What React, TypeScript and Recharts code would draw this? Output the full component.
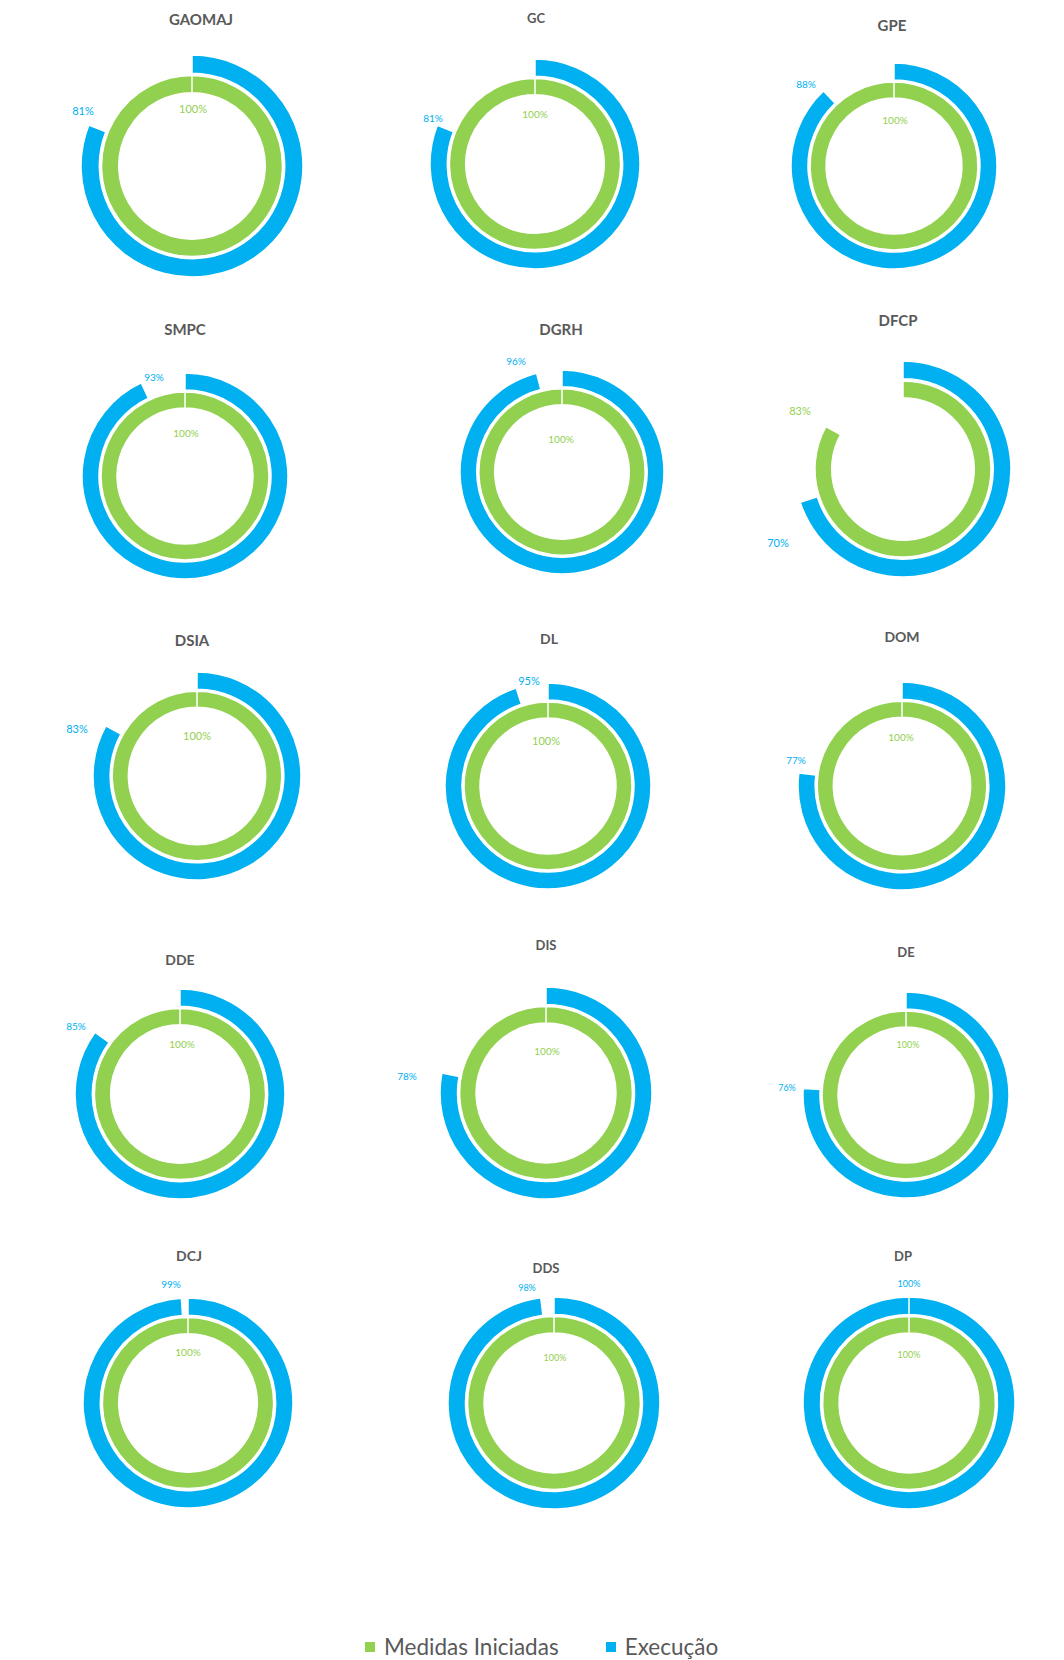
import React from 'react';
import {PieChart, Pie, Cell} from 'recharts';

const units = ['GAOMAJ', 'GC', 'GPE', 'SMPC', 'DGRH', 'DFCP', 'DSIA', 'DL', 'DOM', 'DDE', 'DIS', 'DE', 'DCJ', 'DDS', 'DP'];
const medidasIniciadas = [100, 100, 100, 100, 100, 83, 100, 100, 100, 100, 100, 100, 100, 100, 100];
const execucao = [81, 81, 88, 93, 96, 70, 83, 95, 77, 85, 78, 76, 99, 98, 100];

const GREEN = '#92D050';
const BLUE = '#00B0F0';
const GREY = '#595959';

// where each little chart sits on the page (collage of screenshots, so nothing lines up exactly)
// cx, cy, r, title x/y, blue label x/y, green label x/y, title size, label size
const layout = [
    {cx: 192, cy: 166, r: 111, tx: 201, ty: 19, bx: 83, by: 110, gx: 193, gy: 108, ts: 15, ls: 11},
    {cx: 535, cy: 164, r: 105, tx: 536, ty: 18, bx: 433, by: 118, gx: 535, gy: 114, ts: 13, ls: 10},
    {cx: 894, cy: 166, r: 103, tx: 892, ty: 25, bx: 806, by: 84, gx: 895, gy: 120, ts: 15, ls: 10},
    {cx: 185, cy: 476, r: 103, tx: 185, ty: 329, bx: 154, by: 377, gx: 186, gy: 433, ts: 15, ls: 10},
    {cx: 562, cy: 472, r: 102, tx: 561, ty: 329, bx: 516, by: 361, gx: 561, gy: 439, ts: 15, ls: 10},
    {cx: 903, cy: 469, r: 108, tx: 898, ty: 320, bx: 778, by: 542, gx: 800, gy: 410, ts: 15, ls: 11},
    {cx: 197, cy: 776, r: 104, tx: 192, ty: 640, bx: 77, by: 728, gx: 197, gy: 735, ts: 15, ls: 11},
    {cx: 548, cy: 786, r: 103, tx: 549, ty: 639, bx: 529, by: 680, gx: 546, gy: 740, ts: 14, ls: 11},
    {cx: 902, cy: 786, r: 104, tx: 902, ty: 637, bx: 796, by: 760, gx: 901, gy: 737, ts: 14, ls: 10},
    {cx: 180, cy: 1094, r: 105, tx: 180, ty: 960, bx: 76, by: 1026, gx: 182, gy: 1044, ts: 14, ls: 10},
    {cx: 546, cy: 1093, r: 106, tx: 546, ty: 945, bx: 407, by: 1076, gx: 547, gy: 1051, ts: 13, ls: 10},
    {cx: 906, cy: 1095, r: 103, tx: 906, ty: 952, bx: 787, by: 1087, gx: 908, gy: 1044, ts: 13, ls: 9},
    {cx: 188, cy: 1403, r: 105, tx: 189, ty: 1256, bx: 171, by: 1284, gx: 188, gy: 1352, ts: 14, ls: 10},
    {cx: 554, cy: 1403, r: 106, tx: 546, ty: 1268, bx: 527, by: 1287, gx: 555, gy: 1357, ts: 13, ls: 9},
    {cx: 909, cy: 1403, r: 106, tx: 903, ty: 1256, bx: 909, by: 1283, gx: 909, gy: 1354, ts: 13, ls: 9},
];

const BOX = 260;

const textAt = (x: number, y: number, size: number, color: string, bold: boolean, text: string, key: string) => (
    <div
        key={key}
        style={{
            position: 'absolute',
            left: x,
            top: y,
            transform: 'translate(-50%, -50%)',
            fontFamily: 'Lato, "Open Sans", sans-serif',
            fontSize: size,
            fontWeight: bold ? 700 : 400,
            color,
            whiteSpace: 'nowrap',
            lineHeight: 1,
        }}
    >
        {text}
    </div>
);

const Donut = ({i}: {i: number}) => {
    const l = layout[i];
    const green = [{value: medidasIniciadas[i]}, {value: 100 - medidasIniciadas[i]}];
    const blue = [{value: execucao[i]}, {value: 100 - execucao[i]}];
    const c = BOX / 2;
    return (
        <div style={{position: 'absolute', left: l.cx - c, top: l.cy - c, width: BOX, height: BOX}}>
            <PieChart width={BOX} height={BOX} margin={{top: 0, right: 0, bottom: 0, left: 0}}>
                <Pie
                    data={green}
                    dataKey="value"
                    cx={c}
                    cy={c}
                    innerRadius={l.r * 0.66}
                    outerRadius={l.r * 0.815}
                    startAngle={90}
                    endAngle={-270}
                    stroke="#fff"
                    strokeWidth={1.5}
                    isAnimationActive={false}
                >
                    <Cell fill={GREEN}/>
                    <Cell fill="transparent" stroke="none"/>
                </Pie>
                <Pie
                    data={blue}
                    dataKey="value"
                    cx={c}
                    cy={c}
                    innerRadius={l.r * 0.835}
                    outerRadius={l.r}
                    startAngle={90}
                    endAngle={-270}
                    stroke="#fff"
                    strokeWidth={1.5}
                    isAnimationActive={false}
                >
                    <Cell fill={BLUE}/>
                    <Cell fill="transparent" stroke="none"/>
                </Pie>
            </PieChart>
        </div>
    );
};

export default function App() {
    return (
        <div style={{position: 'absolute', left: 0, top: 0, width: 1064, height: 1660, background: '#fff', overflow: 'hidden'}}>
            {units.map((_u, i) => <Donut key={`d-${i}`} i={i}/>)}
            {units.map((u, i) => textAt(layout[i].tx, layout[i].ty, layout[i].ts, GREY, true, u, `t-${i}`))}
            {units.map((_u, i) => textAt(layout[i].bx, layout[i].by, layout[i].ls, BLUE, false, `${execucao[i]}%`, `b-${i}`))}
            {units.map((_u, i) => textAt(layout[i].gx, layout[i].gy, layout[i].ls, GREEN, false, `${medidasIniciadas[i]}%`, `g-${i}`))}
            <div style={{position: 'absolute', left: 365, top: 1636, display: 'flex', alignItems: 'center', fontFamily: 'Lato, "Open Sans", sans-serif', fontSize: 22.5, color: GREY, lineHeight: 1}}>
                <span style={{display: 'inline-block', width: 10, height: 10, background: GREEN, marginRight: 9}}/>
                <span>Medidas Iniciadas</span>
                <span style={{display: 'inline-block', width: 10, height: 10, background: BLUE, marginLeft: 47, marginRight: 9}}/>
                <span>Execução</span>
            </div>
        </div>
    );
}
